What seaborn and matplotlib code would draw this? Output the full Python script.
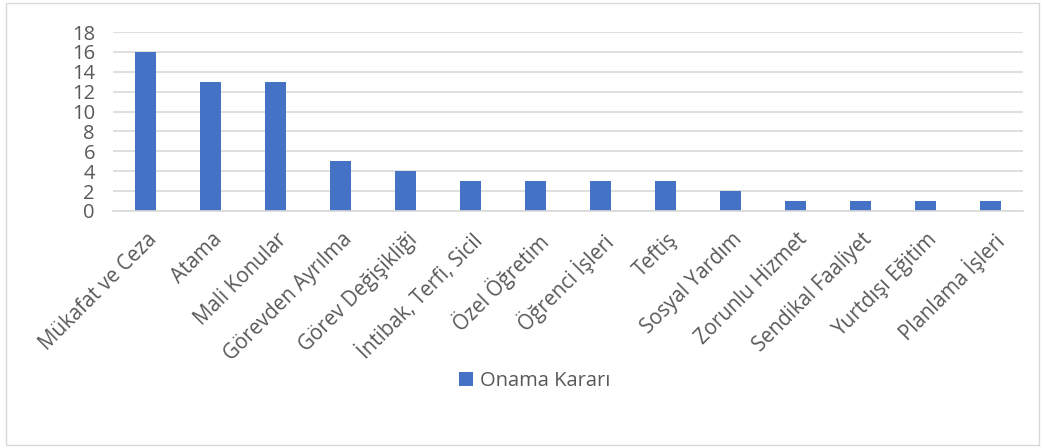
import matplotlib
matplotlib.use("Agg")
import matplotlib.pyplot as plt
import matplotlib.transforms as mtransforms
import seaborn as sns
import pandas as pd
from matplotlib.patches import Rectangle

categories = ["Mükafat ve Ceza", "Atama", "Mali Konular", "Görevden Ayrılma",
              "Görev Değişikliği", "İntibak, Terfi, Sicil", "Özel Öğretim",
              "Öğrenci İşleri", "Teftiş", "Sosyal Yardım", "Zorunlu Hizmet",
              "Sendikal Faaliyet", "Yurtdışı Eğitim", "Planlama İşleri"]
values = [16, 13, 13, 5, 4, 3, 3, 3, 3, 2, 1, 1, 1, 1]
series_name = "Onama Kararı"
y_ticks = [0, 2, 4, 6, 8, 10, 12, 14, 16, 18]

sns.set_theme(style="white")
plt.rcParams['font.family'] = ['Open Sans', 'DejaVu Sans']

df = pd.DataFrame({"Kategori": categories, "Sayı": values, "Seri": series_name})

fig = plt.figure(figsize=(10.45, 4.48), dpi=100)
ax = fig.add_axes([113/1045, 1 - 211/448, 910/1045, 179/448])

sns.barplot(data=df, x="Kategori", y="Sayı", hue="Seri", palette=["#4472C4"],
            saturation=1, width=0.31, ax=ax, legend=True, linewidth=0)

ax.set_ylim(0, 18)
ax.set_yticks(y_ticks)
ax.set_yticklabels([str(t) for t in y_ticks], fontsize=14.5, color="#595959")
ax.set_xlim(-0.5, len(categories) - 0.5)
ax.set_xticks(range(len(categories)))
ax.set_xticklabels(categories, rotation=45, ha="right", va="top",
                   rotation_mode="anchor", fontsize=14.8, color="#595959")
ax.tick_params(axis="y", length=0, pad=13)
ax.tick_params(axis="x", length=0, pad=13)
offset = mtransforms.ScaledTranslation(1/100, 0, fig.dpi_scale_trans)
for lbl in ax.get_xticklabels():
    lbl.set_transform(lbl.get_transform() + offset)
ax.set_xlabel("")
ax.set_ylabel("")
ax.grid(axis="y", color="#D9D9D9", linewidth=1.2)
ax.set_axisbelow(True)
for s in ["top", "right", "left"]:
    ax.spines[s].set_visible(False)
ax.spines["bottom"].set_color("#D9D9D9")
ax.spines["bottom"].set_linewidth(1.2)

ax.legend_.remove()
handles, labels = ax.get_legend_handles_labels()
fig.legend(handles, labels, loc="center", bbox_to_anchor=(535/1045, 1 - 381/448),
           frameon=False, fontsize=14.5, handlelength=0.7, handleheight=0.7,
           handletextpad=0.35, labelcolor="#595959")

fig.patches.append(Rectangle((6/1045, 3/448), 1033/1045, 442/448, transform=fig.transFigure,
                             fill=False, edgecolor="#D9D9D9", linewidth=1))

fig.savefig("out.png", dpi=100)
